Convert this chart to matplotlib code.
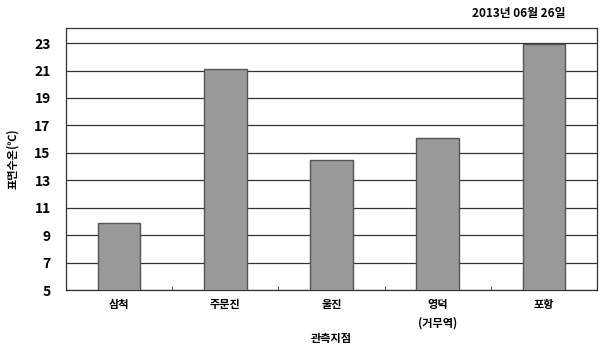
import matplotlib
matplotlib.use("Agg")
import matplotlib.pyplot as plt
import numpy as np

categories = ["삼척", "주문진", "울진", "영덕\n(거무역)", "포항"]
values = [9.9, 21.1, 14.5, 16.1, 22.9]
yticks = [5, 7, 9, 11, 13, 15, 17, 19, 21, 23]

plt.rcParams['font.family'] = ['Noto Sans CJK KR', 'DejaVu Sans']
plt.rcParams['font.weight'] = 'bold'

fig = plt.figure(figsize=(6.01, 3.46), dpi=100)
ax = fig.add_axes([66/601, 1-290/346, (597-66)/601, (290-28)/346])

x = np.arange(len(categories))
ax.bar(x, values, width=0.4, bottom=0, color="#999999", edgecolor="#555555", linewidth=1.0, zorder=3)
ax.set_ylim(5, 24.1)
ax.set_xlim(-0.5, len(categories) - 0.5)
ax.set_yticks(yticks)
ax.set_yticklabels([str(v) for v in yticks], fontsize=10, fontweight='heavy')
ax.yaxis.grid(True, color="#333333", linewidth=0.9, zorder=0)
ax.tick_params(axis='y', length=0, pad=11)

ax.set_xticks(x)
ax.set_xticklabels(categories, fontsize=8, fontweight='bold', linespacing=1.5)
ax.tick_params(axis='x', length=0, pad=6)
ax.set_xticks(np.arange(len(categories) - 1) + 0.5, minor=True)
ax.tick_params(axis='x', which='minor', direction='in', length=3, color="#333333")

for s in ax.spines.values():
    s.set_color("#333333")
    s.set_linewidth(0.9)

ax.set_xlabel("관측지점", fontsize=8, fontweight='bold', labelpad=2)
ax.set_ylabel("표면수온(℃)", fontsize=8, fontweight='bold', labelpad=11)
fig.text(565/601, 1-14/346, "2013년 06월 26일", fontsize=8.5, fontweight='bold', ha='right', va='center')

fig.savefig("out.png", dpi=100)
